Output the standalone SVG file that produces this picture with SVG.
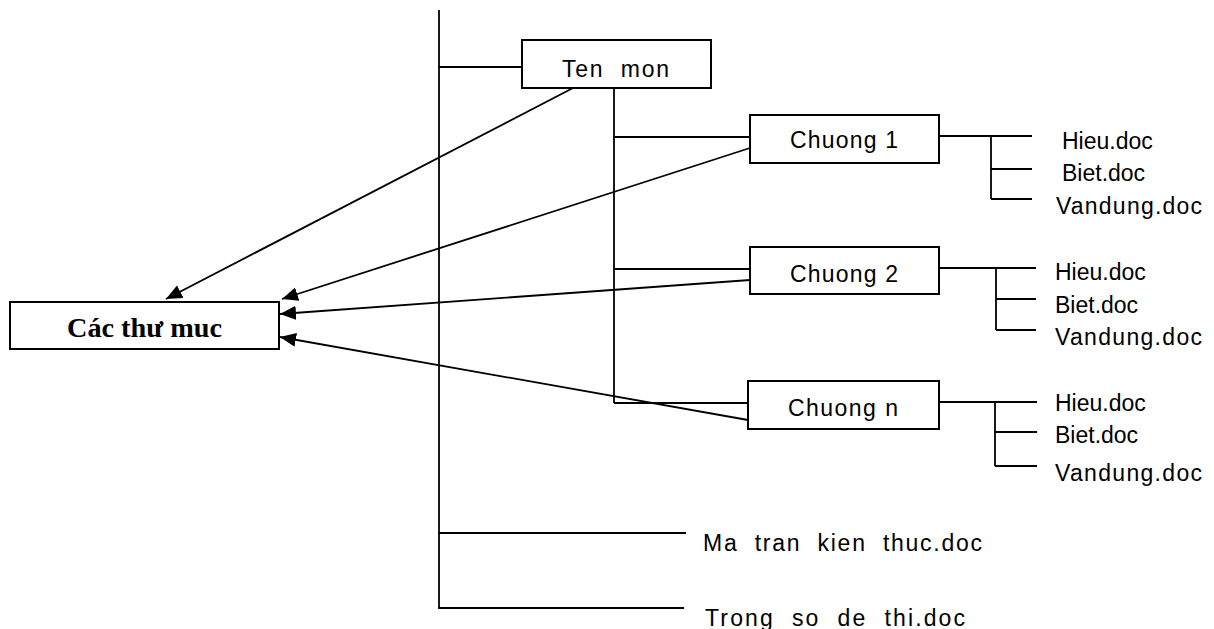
<svg xmlns="http://www.w3.org/2000/svg" width="1214" height="629" viewBox="0 0 1214 629">
<style>
.ln{stroke:#000;stroke-width:1.8;fill:none}
.bx{stroke:#000;stroke-width:2;fill:#fff}
.t{font-family:"Liberation Sans",Arial,sans-serif;font-size:23px;fill:#000}
.tb{font-family:"Liberation Serif","Times New Roman",serif;font-size:27px;font-weight:bold;fill:#000}
</style>
<defs>
<marker id="ah" markerUnits="userSpaceOnUse" markerWidth="18" markerHeight="15" refX="16" refY="7" orient="auto">
<path d="M0,0 L16,7 L0,14 z" fill="#000"/>
</marker>
</defs>
<rect width="1214" height="629" fill="#fff"/>
<g id="connectors">
<line class="ln" x1="439" y1="10" x2="439" y2="609"/>
<line class="ln" x1="439" y1="67" x2="522" y2="67"/>
<line class="ln" x1="439" y1="533" x2="686" y2="533"/>
<line class="ln" x1="439" y1="608" x2="684" y2="608"/>
<line class="ln" x1="614" y1="88" x2="614" y2="403"/>
<line class="ln" x1="614" y1="137" x2="750" y2="137"/>
<line class="ln" x1="614" y1="269" x2="750" y2="269"/>
<line class="ln" x1="614" y1="403" x2="748" y2="403"/>
<line class="ln" x1="939" y1="136" x2="1032" y2="136"/>
<line class="ln" x1="991" y1="136" x2="991" y2="199"/>
<line class="ln" x1="991" y1="169" x2="1032" y2="169"/>
<line class="ln" x1="991" y1="199" x2="1032" y2="199"/>
<line class="ln" x1="939" y1="268" x2="1036" y2="268"/>
<line class="ln" x1="996" y1="268" x2="996" y2="330"/>
<line class="ln" x1="996" y1="299" x2="1036" y2="299"/>
<line class="ln" x1="996" y1="330" x2="1036" y2="330"/>
<line class="ln" x1="939" y1="402" x2="1037" y2="402"/>
<line class="ln" x1="995" y1="402" x2="995" y2="466"/>
<line class="ln" x1="995" y1="432" x2="1037" y2="432"/>
<line class="ln" x1="995" y1="466" x2="1037" y2="466"/>
<line class="ln" x1="573" y1="88" x2="166" y2="299" marker-end="url(#ah)"/>
<line class="ln" x1="750" y1="148" x2="282" y2="299" marker-end="url(#ah)"/>
<line class="ln" x1="750" y1="280" x2="280" y2="314" marker-end="url(#ah)"/>
<line class="ln" x1="748" y1="420" x2="280" y2="337" marker-end="url(#ah)"/>
</g>
<g id="cac-thu-muc">
<rect class="bx" x="10" y="302" width="269" height="47"/>
<text class="tb" x="67" y="337" textLength="155" lengthAdjust="spacingAndGlyphs">Các thư muc</text>
</g>
<g id="ten-mon">
<rect class="bx" x="522" y="40" width="189" height="48"/>
<text class="t" x="562" y="77" textLength="107" lengthAdjust="spacing" xml:space="preserve">Ten  mon</text>
</g>
<g id="chuong-1">
<rect class="bx" x="750" y="115" width="189" height="48"/>
<text class="t" x="790" y="148" textLength="108" lengthAdjust="spacing">Chuong 1</text>
</g>
<g id="chuong-2">
<rect class="bx" x="750" y="247" width="189" height="47"/>
<text class="t" x="790" y="282" textLength="108" lengthAdjust="spacing">Chuong 2</text>
</g>
<g id="chuong-n">
<rect class="bx" x="748" y="381" width="191" height="48"/>
<text class="t" x="788" y="416" textLength="110" lengthAdjust="spacing">Chuong n</text>
</g>
<g id="files-1">
<text class="t" x="1062" y="149">Hieu.doc</text>
<text class="t" x="1062" y="181">Biet.doc</text>
<text class="t" x="1056" y="214" textLength="146" lengthAdjust="spacing">Vandung.doc</text>
</g>
<g id="files-2">
<text class="t" x="1055" y="280">Hieu.doc</text>
<text class="t" x="1055" y="313">Biet.doc</text>
<text class="t" x="1055" y="345" textLength="147" lengthAdjust="spacing">Vandung.doc</text>
</g>
<g id="files-n">
<text class="t" x="1055" y="411">Hieu.doc</text>
<text class="t" x="1055" y="443">Biet.doc</text>
<text class="t" x="1055" y="481" textLength="147" lengthAdjust="spacing">Vandung.doc</text>
</g>
<g id="ma-tran">
<text class="t" x="703" y="551" textLength="279" lengthAdjust="spacing" xml:space="preserve">Ma  tran  kien  thuc.doc</text>
</g>
<g id="trong-so">
<text class="t" x="705" y="626" textLength="260" lengthAdjust="spacing" xml:space="preserve">Trong  so  de  thi.doc</text>
</g>
</svg>
